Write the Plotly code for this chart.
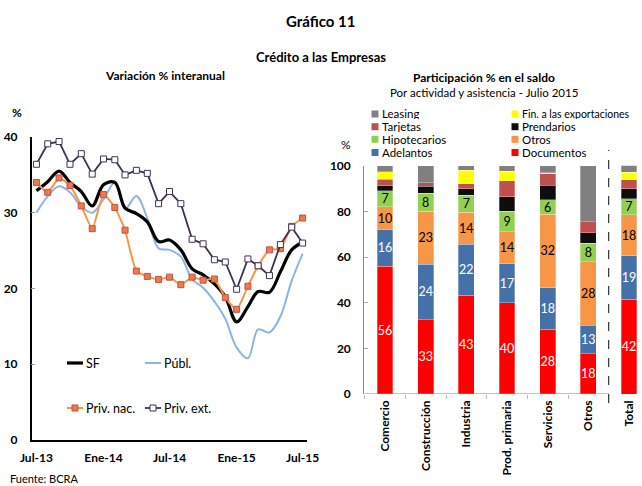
import plotly.graph_objects as go

# ---------------- data: left chart ----------------
months = ["2013-07-01", "2013-08-01", "2013-09-01", "2013-10-01", "2013-11-01", "2013-12-01",
          "2014-01-01", "2014-02-01", "2014-03-01", "2014-04-01", "2014-05-01", "2014-06-01",
          "2014-07-01", "2014-08-01", "2014-09-01", "2014-10-01", "2014-11-01", "2014-12-01",
          "2015-01-01", "2015-02-01", "2015-03-01", "2015-04-01", "2015-05-01", "2015-06-01",
          "2015-07-01"]
sf = [32.9, 34.1, 35.5, 34.0, 32.8, 30.9, 33.7, 34.0, 30.6, 29.9, 28.8, 26.2, 26.4,
      25.1, 22.6, 21.8, 20.6, 18.9, 15.6, 17.6, 19.6, 19.5, 22.2, 25.1, 26.1]
publ = [30.0, 32.2, 33.5, 32.7, 30.8, 30.0, 31.8, 34.0, 30.5, 32.2, 29.3, 25.3, 25.1,
        24.2, 21.2, 20.1, 18.3, 16.0, 12.2, 10.8, 14.6, 14.2, 16.3, 21.0, 24.6]
priv_nac = [34.0, 32.7, 34.6, 33.6, 30.9, 27.9, 32.4, 30.7, 27.7, 22.3, 21.6, 21.2, 21.5,
            20.5, 21.5, 21.1, 21.25, 18.8, 17.25, 20.3, 23.0, 25.1, 25.25, 28.2, 29.3]
priv_ext = [36.4, 39.1, 39.4, 36.4, 37.8, 35.1, 37.1, 37.0, 35.0, 35.6, 35.2, 31.2, 32.8,
            31.2, 26.5, 25.9, 23.8, 23.5, 19.9, 23.9, 23.0, 21.7, 25.8, 28.1, 26.0]
x_tickvals = ["2013-07-01", "2014-01-01", "2014-07-01", "2015-01-01", "2015-07-01"]
x_ticktext = ["Jul-13", "Ene-14", "Jul-14", "Ene-15", "Jul-15"]
y_left_ticks = [0, 10, 20, 30, 40]

# ---------------- data: right chart ----------------
sectors = ["Comercio", "Construcción", "Industria", "Prod. primaria", "Servicios", "Otros", "Total"]
documentos = [56, 32.6, 43.3, 40, 28.3, 17.6, 41.6]
adelantos = [16, 24.2, 22.2, 17, 18.2, 12.6, 19]
otros = [10, 23.2, 14.2, 14, 32.3, 27.7, 18]
hipotecarios = [7, 8, 7.3, 9, 6.2, 8.2, 7]
prendarios = [2.2, 3, 3, 6.5, 6.5, 4.6, 4.3]
tarjetas = [2.8, 1.5, 2, 7, 5, 4.8, 3.9]
fin_export = [3.4, 0, 6, 4, 0.5, 0, 3.4]
leasing = [2.6, 7.5, 2, 2.5, 3, 24.5, 2.9]
y_right_ticks = [0, 20, 40, 60, 80, 100]

FONT = "Lato"
W, H = 642, 486


def px(x):
    return x / W


def py(y):
    return 1 - y / H


fig = go.Figure()

# ---------------- left chart traces ----------------
fig.add_trace(go.Scatter(x=months, y=publ, mode="lines", name="Públ.",
                         line=dict(color="#8DB4E2", width=2, shape="spline", smoothing=1.0),
                         xaxis="x", yaxis="y", showlegend=False))
fig.add_trace(go.Scatter(x=months, y=sf, mode="lines", name="SF",
                         line=dict(color="#000000", width=3.2, shape="spline", smoothing=1.0),
                         xaxis="x", yaxis="y", showlegend=False))
fig.add_trace(go.Scatter(x=months, y=priv_nac, mode="lines+markers", name="Priv. nac.",
                         line=dict(color="#F79646", width=2, shape="spline", smoothing=0.5),
                         marker=dict(symbol="square", size=6, color="#EE7B45",
                                     line=dict(color="#C0504D", width=1)),
                         xaxis="x", yaxis="y", showlegend=False))
fig.add_trace(go.Scatter(x=months, y=priv_ext, mode="lines+markers", name="Priv. ext.",
                         line=dict(color="#403151", width=1.8),
                         marker=dict(symbol="square", size=6, color="#FFFFFF",
                                     line=dict(color="#403151", width=1)),
                         xaxis="x", yaxis="y", showlegend=False))

# ---------------- right chart traces ----------------
series = [
    ("Documentos", documentos, "#FF0000", "white", True),
    ("Adelantos", adelantos, "#4472A8", "white", True),
    ("Otros", otros, "#F79646", "black", True),
    ("Hipotecarios", hipotecarios, "#92D050", "black", True),
    ("Prendarios", prendarios, "#0D0D0D", "black", False),
    ("Tarjetas", tarjetas, "#C0504D", "black", False),
    ("Fin. a las exportaciones", fin_export, "#FFFF00", "black", False),
    ("Leasing", leasing, "#808080", "black", False),
]
for name, vals, color, tcolor, labelled in series:
    fig.add_trace(go.Bar(
        x=sectors, y=vals, name=name,
        marker=dict(color=color, line=dict(color="rgba(255,255,255,0.5)", width=0.6)),
        text=[f"{v:.0f}" for v in vals] if labelled else None,
        textposition="inside" if labelled else "none",
        insidetextanchor="middle", textangle=0,
        textfont=dict(color=tcolor, size=12.5, family=FONT),
        width=0.39, xaxis="x2", yaxis="y2", showlegend=False))

tickfont = dict(family=FONT, size=12, color="black", weight="bold")

fig.update_layout(
    width=W, height=H,
    margin=dict(l=0, r=0, t=0, b=0),
    paper_bgcolor="white", plot_bgcolor="white",
    barmode="stack",
    font=dict(family=FONT, color="black"),
    uniformtext=dict(mode="show", minsize=12.5),
    xaxis=dict(domain=[px(31.7), px(307)], type="date", automargin=False,
               range=["2013-06-18", "2015-07-13"],
               tickvals=x_tickvals, ticktext=x_ticktext, tickfont=tickfont,
               showline=True, linecolor="black", linewidth=1.5, showgrid=False,
               ticks="", ticklabelstandoff=6, zeroline=False),
    yaxis=dict(domain=[py(440), py(137)], range=[0, 40], tickvals=y_left_ticks, automargin=False,
               tickfont=tickfont, showline=True, linecolor="black", linewidth=1.5,
               showgrid=False, ticks="inside", ticklen=4, tickcolor="#999999",
               ticklabelstandoff=10, zeroline=False),
    xaxis2=dict(domain=[px(364.3), 1.0], anchor="y2", type="category", automargin=False,
                range=[-0.51, 6.32], tickangle=-90, tickfont=tickfont,
                showline=False, showgrid=False, ticks="outside", tickson="boundaries",
                ticklen=4, tickcolor="#BBBBBB", ticklabelstandoff=3),
    yaxis2=dict(domain=[py(394), py(165.7)], anchor="x2", range=[0, 100], automargin=False,
                tickvals=y_right_ticks, tickfont=tickfont, showline=True,
                linecolor="#888888", linewidth=1.2, showgrid=False,
                ticks="inside", ticklen=4, tickcolor="#AAAAAA",
                ticklabelstandoff=10, zeroline=False),
)

shapes = []
# x-axis line of right chart (up to the dashed separator)
shapes.append(dict(type="line", xref="x2", yref="y2", x0=-0.51, x1=5.5, y0=0, y1=0,
                   line=dict(color="#888888", width=1.2)))
# dashed separator before Total
shapes.append(dict(type="line", xref="x2", yref="paper", x0=5.5, x1=5.5,
                   y0=py(403), y1=py(150), line=dict(color="#333333", width=1.2, dash="dash")))

annotations = []


def text(x, y, s, size=12, bold=False, xanchor="center", color="black"):
    annotations.append(dict(x=px(x), y=py(y), xref="paper", yref="paper", text=s,
                            showarrow=False, xanchor=xanchor, yanchor="middle",
                            font=dict(family=FONT, size=size, color=color,
                                      weight="bold" if bold else "normal")))


# titles
text(321, 21, "Gráfico 11", size=15, bold=True)
text(321, 57, "Crédito a las Empresas", size=13, bold=True)
text(165, 75, "Variación % interanual", size=12, bold=True)
text(484, 77, "Participación % en el saldo", size=12, bold=True)
text(484, 92, "Por actividad y asistencia - Julio 2015", size=11.5)
text(8, 478, "Fuente: BCRA", size=11, xanchor="left")
text(17, 112, "%", size=12, bold=True)
text(346, 145, "%", size=12)

# left legend (line samples drawn as shapes)
left_legend = [
    ("SF", "#000000", 3.2, None, 67, 363),
    ("Públ.", "#8DB4E2", 2, None, 145, 363),
    ("Priv. nac.", "#F79646", 2, ("#EE7B45", "#C0504D"), 67, 408),
    ("Priv. ext.", "#403151", 1.8, ("#FFFFFF", "#403151"), 145, 408),
]
for name, color, lw, mk, x0, y0 in left_legend:
    shapes.append(dict(type="line", xref="paper", yref="paper", x0=px(x0), x1=px(x0 + 16),
                       y0=py(y0), y1=py(y0), line=dict(color=color, width=lw)))
    if mk:
        cx = x0 + 8
        shapes.append(dict(type="rect", xref="paper", yref="paper", x0=px(cx - 3), x1=px(cx + 3),
                           y0=py(y0 + 3), y1=py(y0 - 3), fillcolor=mk[0],
                           line=dict(color=mk[1], width=1)))
    text(x0 + 17, y0, name, size=12.5, xanchor="left")

# right legend
right_legend = [
    ("Leasing", "#808080", 375, 114), ("Tarjetas", "#C0504D", 375, 126.7),
    ("Hipotecarios", "#92D050", 375, 139.3), ("Adelantos", "#4472A8", 375, 152.5),
    ("Fin. a las exportaciones", "#FFFF00", 515, 114), ("Prendarios", "#0D0D0D", 515, 126.7),
    ("Otros", "#F79646", 515, 139.3), ("Documentos", "#FF0000", 515, 152.5),
]
for name, color, cx, cy in right_legend:
    shapes.append(dict(type="rect", xref="paper", yref="paper", x0=px(cx - 3.5), x1=px(cx + 3.5),
                       y0=py(cy + 3.5), y1=py(cy - 3.5), fillcolor=color, line=dict(width=0)))
    size = 10.5 if len(name) > 15 else 11.5
    annotations.append(dict(x=px(cx + 5), y=py(cy), xref="paper", yref="paper", text=name,
                            showarrow=False, xanchor="left", yanchor="middle",
                            font=dict(family=FONT, size=size, color="black"),
                            height=11, valign="middle"))

fig.update_layout(shapes=shapes, annotations=annotations)
fig.write_html("out.html", config={"displayModeBar": False},
               post_script="document.body.style.margin='0px';document.body.style.overflow='hidden';")
